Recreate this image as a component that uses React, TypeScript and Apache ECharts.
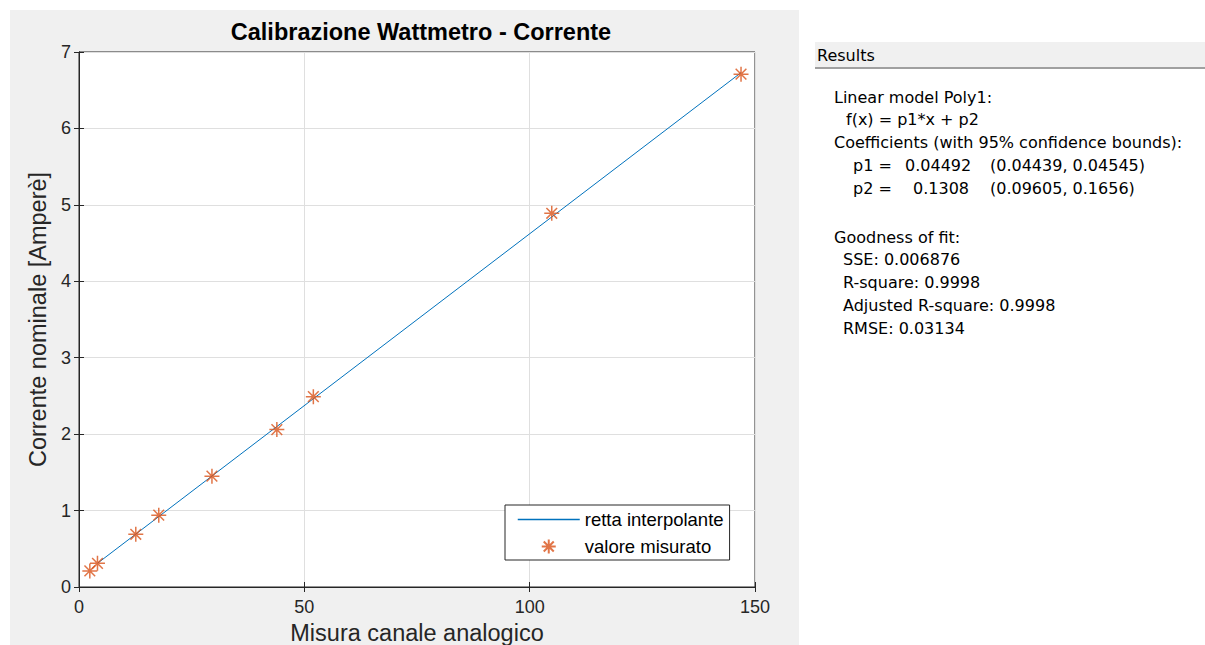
import React, { useEffect, useRef } from "react";
import * as echarts from "echarts";

// Measured points (Misura canale analogico, Corrente nominale)
const measuredX = [2.4, 4.1, 12.6, 17.7, 29.5, 43.9, 52.0, 104.9, 146.9];
const measuredY = [0.21, 0.31, 0.69, 0.94, 1.45, 2.06, 2.49, 4.89, 6.71];

// Fitted line endpoints
const fitX = [4.1, 146.9];
const fitY = [0.31, 6.73];

const xTicks = { min: 0, max: 150, interval: 50 };
const yTicks = { min: 0, max: 7, interval: 1 };

const titleText = "Calibrazione Wattmetro - Corrente";
const xName = "Misura canale analogico";
const yName = "Corrente nominale [Amperè]";
const seriesNames = ["retta interpolante", "valore misurato"];

// Results panel lines: [text, x, y]
const resultLines: [string, number, number][] = [
  ["Linear model Poly1:", 834, 97],
  ["f(x) = p1*x + p2", 846, 119],
  ["Coefficients (with 95% confidence bounds):", 834, 142],
  ["p1 =", 853, 165],
  ["0.04492", 905, 165],
  ["(0.04439, 0.04545)", 990, 165],
  ["p2 =", 853, 188],
  ["0.1308", 913, 188],
  ["(0.09605, 0.1656)", 990, 188],
  ["Goodness of fit:", 834, 237],
  ["SSE: 0.006876", 843, 259],
  ["R-square: 0.9998", 843, 282],
  ["Adjusted R-square: 0.9998", 843, 305],
  ["RMSE: 0.03134", 843, 328],
];

const BLUE = "#0072BD";
const ORANGE = "#D95319";
const AX = "#262626";
const FONT = "'Liberation Sans', Arial, sans-serif";
const STAR = "path://M7,0L7,14M0,7L14,7M2,2L12,12M2,12L12,2";

export default function App() {
  const ref = useRef<HTMLDivElement>(null);
  useEffect(() => {
    if (!ref.current) return;
    const chart = echarts.init(ref.current, null, { renderer: "svg" });
    const grid = { left: 79, top: 52, width: 676, height: 535 };
    const axisCommon = {
      axisLine: { show: true, lineStyle: { color: AX, width: 1 } },
      axisTick: { show: true, inside: true, length: 5, lineStyle: { color: AX } },
    };
    const graphics: any[] = [
      {
        type: "rect",
        z: -10,
        shape: { x: 10, y: 10, width: 789, height: 635 },
        style: { fill: "#f0f0f0" },
        silent: true,
      },
      {
        type: "rect",
        shape: { x: 815, y: 42, width: 390, height: 25 },
        style: { fill: "#f0f0f0" },
        silent: true,
      },
      {
        type: "line",
        shape: { x1: 815, y1: 68, x2: 1205, y2: 68 },
        style: { stroke: "#a0a0a0", lineWidth: 2 },
        silent: true,
      },
      {
        type: "text",
        x: 817,
        y: 55,
        style: {
          text: "Results",
          font: "16px 'DejaVu Sans'",
          fill: "#000",
          verticalAlign: "middle",
        },
      },
      ...resultLines.map(([t, x, y]) => ({
        type: "text",
        x,
        y,
        style: {
          text: t,
          font: "16px 'DejaVu Sans'",
          fill: "#000",
          verticalAlign: "middle",
        },
      })),
    ];
    chart.setOption({
      animation: false,
      backgroundColor: "#ffffff",
      title: {
        text: titleText,
        left: 416,
        top: 15,
        textAlign: "center",
        textStyle: {
          fontFamily: FONT,
          fontWeight: "bold",
          fontSize: 23.5,
          color: "#000",
        },
      },
      grid: {
        ...grid,
        outerBoundsMode: "none",
        containLabel: false,
        show: true,
        backgroundColor: "#ffffff",
        borderColor: AX,
        borderWidth: 1,
      },
      legend: {
        orient: "vertical",
        left: 505,
        top: 505,
        backgroundColor: "#ffffff",
        borderColor: AX,
        borderWidth: 1,
        borderRadius: 0,
        padding: [5, 6, 4, 12],
        itemWidth: 62,
        itemHeight: 14,
        itemGap: 8,
        textStyle: {
          fontFamily: FONT,
          fontSize: 18.5,
          color: "#000",
        },
        data: [
          {
            name: seriesNames[0],
            itemStyle: { color: "rgba(0,0,0,0)", borderWidth: 0, opacity: 0 },
            lineStyle: { color: BLUE, width: 1.5, opacity: 1 },
          },
          { name: seriesNames[1] },
        ],
      },
      xAxis: [
        {
          type: "value",
          ...xTicks,
          position: "bottom",
          ...axisCommon,
          axisLabel: {
            fontFamily: FONT,
            fontSize: 18,
            color: AX,
            margin: 11,
          },
          splitLine: { show: true, lineStyle: { color: "#dfdfdf", width: 1 } },
          name: xName,
          nameLocation: "middle",
          nameGap: 33,
          nameTextStyle: {
            fontFamily: FONT,
            fontSize: 23.5,
            color: AX,
          },
        },
        {
          type: "value",
          ...xTicks,
          position: "top",
          ...axisCommon,
          axisLabel: { show: false },
          splitLine: { show: false },
        },
      ],
      yAxis: [
        {
          type: "value",
          ...yTicks,
          position: "left",
          ...axisCommon,
          axisLabel: {
            fontFamily: FONT,
            fontSize: 18,
            color: AX,
            margin: 8,
          },
          splitLine: { show: true, lineStyle: { color: "#dfdfdf", width: 1 } },
          name: yName,
          nameLocation: "middle",
          nameRotate: 90,
          nameGap: 28,
          nameTextStyle: {
            fontFamily: FONT,
            fontSize: 23.5,
            color: AX,
          },
        },
        {
          type: "value",
          ...yTicks,
          position: "right",
          ...axisCommon,
          axisLabel: { show: false },
          splitLine: { show: false },
        },
      ],
      series: [
        {
          name: seriesNames[0],
          type: "line",
          xAxisIndex: 0,
          yAxisIndex: 0,
          data: fitX.map((x, i) => [x, fitY[i]]),
          showSymbol: false,
          symbol: "none",
          lineStyle: { color: BLUE, width: 1 },
          itemStyle: { color: BLUE },
          z: 2,
        },
        {
          name: seriesNames[1],
          type: "scatter",
          xAxisIndex: 0,
          yAxisIndex: 0,
          data: measuredX.map((x, i) => [x, measuredY[i]]),
          symbol: STAR,
          symbolSize: 15,
          itemStyle: { color: "none", borderColor: ORANGE, borderWidth: 1.5 },
          z: 3,
        },
      ],
      graphic: graphics,
    });
    return () => chart.dispose();
  }, []);
  return (
    <div
      ref={ref}
      style={{ position: "fixed", left: 0, top: 0, width: 1205, height: 645 }}
    />
  );
}
